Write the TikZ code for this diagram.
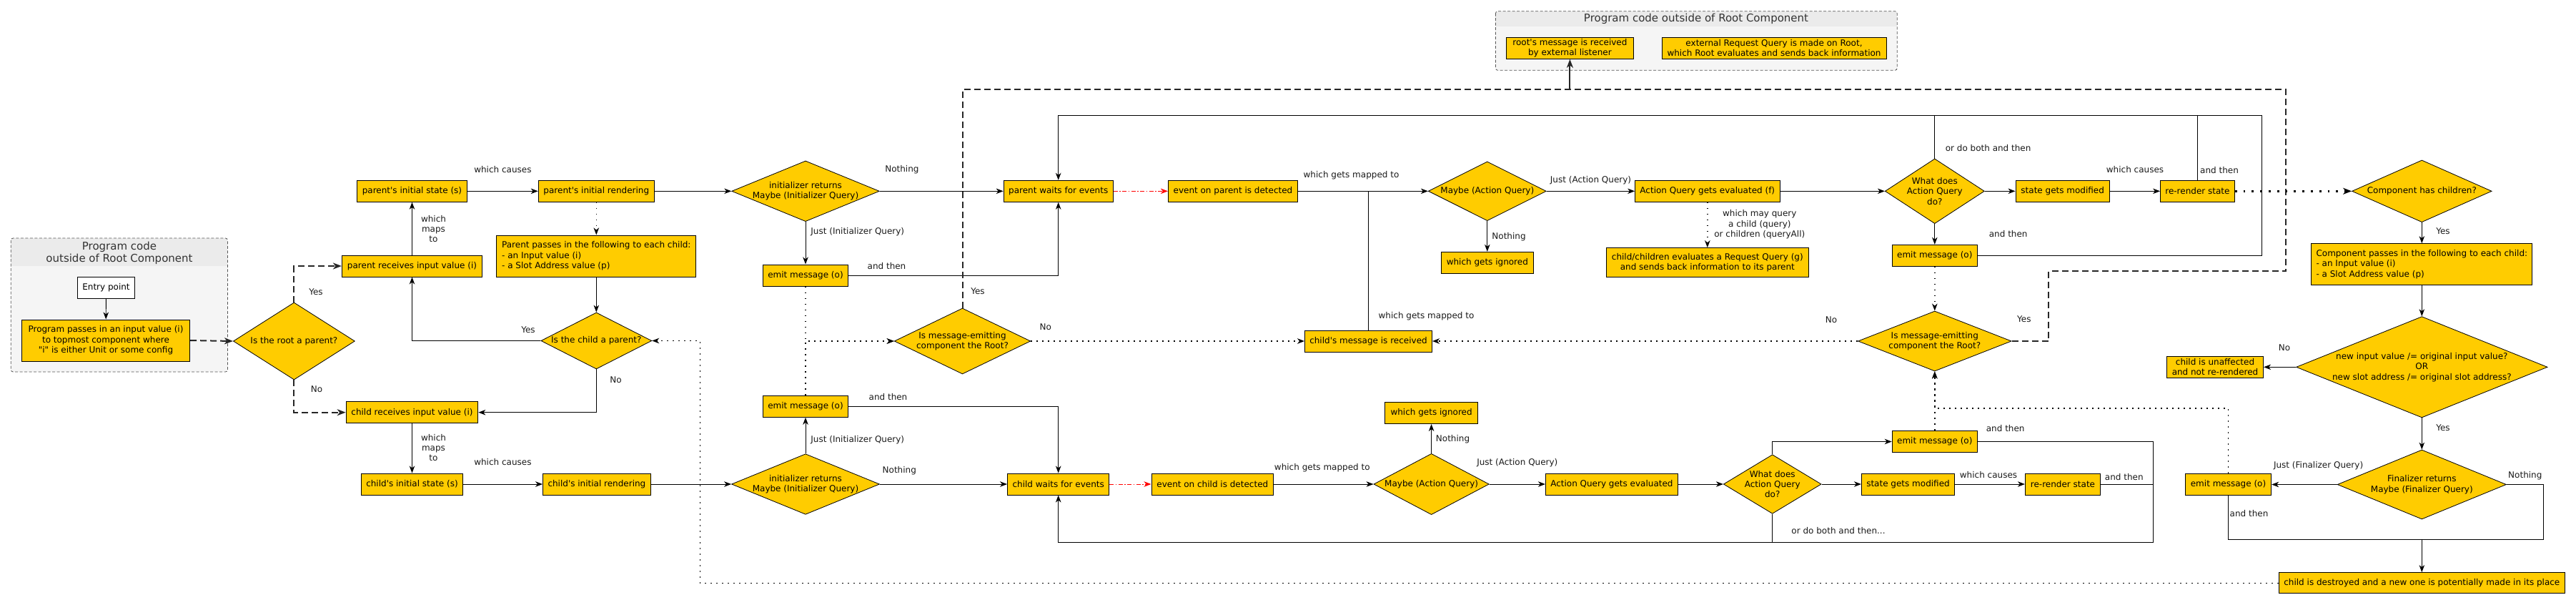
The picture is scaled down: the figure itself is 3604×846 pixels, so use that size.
\documentclass[tikz,border=0pt]{standalone}
\usepackage{fontspec}
\setmainfont{DejaVu Sans}[Ligatures=TeXOff]
\usetikzlibrary{arrows.meta,shapes.geometric}
\definecolor{ylw}{HTML}{FFCC00}
\definecolor{cbody}{HTML}{F5F5F5}
\definecolor{chead}{HTML}{EBEBEB}
\definecolor{cbord}{HTML}{555555}
\definecolor{ttl}{HTML}{333333}
\begin{document}
\begin{tikzpicture}[x=1pt,y=-1pt,
  every node/.style={font=\fontsize{12}{14.4}\selectfont, inner sep=0pt},
  box/.style={draw=black, fill=ylw, line width=1pt, align=center, minimum height=30},
  dia/.style={diamond, draw=black, fill=ylw, line width=0.8pt},
  dtxt/.style={align=center},
  lbl/.style={align=center, text=black!90},
  title/.style={align=center, text=ttl, font=\fontsize{15}{17}\selectfont},
  tip/.style={-{Stealth[length=10pt,width=7.5pt,inset=3pt]}},
  bigtip/.style={-{Stealth[length=12pt,width=9pt,inset=3.5pt]}},
  ln/.style={line width=0.9pt},
  arr/.style={ln, tip},
  dots/.style={line width=1.6pt, dash pattern=on 1.6pt off 6.4pt},
  bigdots/.style={line width=2.8pt, dash pattern=on 2.8pt off 9pt},
  heavy/.style={line width=2pt, dash pattern=on 9pt off 5pt, black!85},
  redarr/.style={red, line width=1pt, dash pattern=on 6pt off 2.5pt on 1.5pt off 2.5pt, tip},
  cont/.style={draw=cbord, line width=0.8pt, dash pattern=on 4pt off 2.5pt, rounded corners=3pt},
]
\useasboundingbox (0,0) rectangle (3604,846);

% ---------- containers ----------
\fill[cbody, rounded corners=3pt] (15.3,333) rectangle (318.4,520);
\begin{scope}
  \clip[rounded corners=3pt] (15.3,333) rectangle (318.4,520);
  \fill[chead] (15.3,333) rectangle (318.4,372);
\end{scope}
\draw[cont] (15.3,333) rectangle (318.4,520);
\node[title] (ttlL) at (167,353.5) {Program code\\outside of Root Component};

\fill[cbody, rounded corners=3pt] (2092.4,15.7) rectangle (2654.2,98.3);
\begin{scope}
  \clip[rounded corners=3pt] (2092.4,15.7) rectangle (2654.2,98.3);
  \fill[chead] (2092.4,15.7) rectangle (2654.2,36.7);
\end{scope}
\draw[cont] (2092.4,15.7) rectangle (2654.2,98.3);
\node[title] (ttlR) at (2373,26) {Program code outside of Root Component};

% ---------- nodes ----------
\node[box, fill=white, minimum width=80.4] (entry) at (148.5,402) {Entry point};
\node[box, minimum width=235.4, minimum height=58] (prog) at (148,476) {Program passes in an input value (i)\\to topmost component where\\"i" is either Unit or some config};
\node[dia, minimum width=170, minimum height=108, label={[dtxt]center:{Is the root a parent?}}] (rootQ) at (411.4,477) {};
\node[box, minimum width=196.1] (pRecv) at (576.5,372) {parent receives input value (i)};
\node[box, minimum width=153.4] (pInit) at (576.5,267.3) {parent's initial state (s)};
\node[box, minimum width=162.1] (pRend) at (834.3,267.3) {parent's initial rendering};
\node[box, minimum width=278.8, minimum height=58, align=left] (pPass) at (834.3,358) {Parent passes in the following to each child:\\- an Input value (i)\\- a Slot Address value (p)};
\node[dia, minimum width=155, minimum height=79, label={[dtxt]center:{Is the child a parent?}}] (childQ) at (834.3,476.5) {};
\node[box, minimum width=184.6] (cRecv) at (576.5,576.7) {child receives input value (i)};
\node[box, minimum width=142] (cInit) at (576.5,677) {child's initial state (s)};
\node[box, minimum width=150.7] (cRend) at (834.9,677) {child's initial rendering};

\node[dia, minimum width=206.6, minimum height=84.7, label={[dtxt]center:{initializer returns\\Maybe (Initializer Query)}}] (pIni) at (1127,267.3) {};
\node[box, minimum width=119.2] (pEmit) at (1127,385) {emit message (o)};
\node[box, minimum width=153] (pWait) at (1480.7,267.3) {parent waits for events};
\node[box, minimum width=181.2] (pEvent) at (1725,267.3) {event on parent is detected};
\node[dia, minimum width=190.6, minimum height=92, label={[dtxt]center:{Is message-emitting\\component the Root?}}] (rootL) at (1346.5,477) {};
\node[box, minimum width=119.2] (cEmit) at (1127,568.3) {emit message (o)};
\node[dia, minimum width=207, minimum height=84.6, label={[dtxt]center:{initializer returns\\Maybe (Initializer Query)}}] (cIni) at (1127,677) {};
\node[box, minimum width=142.3] (cWait) at (1480.7,677) {child waits for events};
\node[box, minimum width=170.6] (cEvent) at (1696.3,677) {event on child is detected};

\node[box, minimum width=178.8] (rootMsg) at (2196.4,67.3) {root's message is received\\by external listener};
\node[box, minimum width=314] (extReq) at (2482,67.3) {external Request Query is made on Root,\\which Root evaluates and sends back information};
\node[dia, minimum width=165, minimum height=82.7, label={[dtxt]center:{Maybe (Action Query)}}] (pMaybe) at (2080.8,267.3) {};
\node[box, minimum width=128.9] (pIgn) at (2080.8,367.3) {which gets ignored};
\node[box, minimum width=202.4] (pAQ) at (2388.8,267.3) {Action Query gets evaluated (f)};
\node[box, minimum width=283, minimum height=40.6] (pChild) at (2388.8,367) {child/children evaluates a Request Query (g)\\and sends back information to its parent};
\node[box, minimum width=177.9] (cMsg) at (1914.5,477) {child's message is received};
\node[box, minimum width=129.3] (cIgn) at (2002.6,577.5) {which gets ignored};
\node[dia, minimum width=161.3, minimum height=85.3, label={[dtxt]center:{Maybe (Action Query)}}] (cMaybe) at (2002.6,677) {};
\node[box, minimum width=184.9] (cAQ) at (2254.9,677) {Action Query gets evaluated};

\node[dia, minimum width=139, minimum height=90.7, label={[dtxt]center:{What does\\Action Query\\do?}}] (pWhat) at (2706.8,267.3) {};
\node[box, minimum width=131.4] (pState) at (2885.7,267.3) {state gets modified};
\node[box, minimum width=103.7] (pRer) at (3074.4,267.3) {re-render state};
\node[box, minimum width=119.2] (pEmit2) at (2706.8,357.3) {emit message (o)};
\node[dia, minimum width=214.7, minimum height=84, label={[dtxt]center:{Is message-emitting\\component the Root?}}] (rootR) at (2706.8,477) {};
\node[dia, minimum width=136.8, minimum height=82.6, label={[dtxt]center:{What does\\Action Query\\do?}}] (cWhat) at (2479.7,677) {};
\node[box, minimum width=119.2] (cEmit2) at (2706.8,617.5) {emit message (o)};
\node[box, minimum width=130.1] (cState) at (2669.5,677) {state gets modified};
\node[box, minimum width=105.2] (cRer) at (2886,677) {re-render state};

\node[dia, minimum width=195.6, minimum height=86.7, label={[dtxt]center:{Component has children?}}] (hasCh) at (3388.3,267.3) {};
\node[box, minimum width=308.7, minimum height=57.6, align=left] (compPass) at (3388.3,369.5) {Component passes in the following to each child:\\- an Input value (i)\\- a Slot Address value (p)};
\node[dia, minimum width=351.5, minimum height=141.3, label={[dtxt]center:{new input value /= original input value?\\OR\\new slot address /= original slot address?}}] (newIn) at (3388.3,513.3) {};
\node[box, minimum width=135.1] (unaff) at (3099,513.3) {child is unaffected\\and not re-rendered};
\node[dia, minimum width=236.3, minimum height=97, label={[dtxt]center:{Finalizer returns\\Maybe (Finalizer Query)}}] (fin) at (3388.3,677.5) {};
\node[box, minimum width=120.3] (fEmit) at (3117.5,677.5) {emit message (o)};
\node[box, minimum width=399.8, minimum height=29.3] (destroy) at (3388.3,815.3) {child is destroyed and a new one is potentially made in its place};

% ---------- helper coordinates ----------
\coordinate (loopT) at (3164.5,161.3);
\coordinate (loopB) at (3012.4,758.3);
\coordinate (h1) at (2866.3,379.3);
\coordinate (h2) at (3198.3,125.3);
\coordinate (dTop) at (2196.4,125.3);
\coordinate (jP) at (1914.5,267.3);
\coordinate (fj) at (2706.8,570.7);
\coordinate (fn) at (3558.3,754.3);
\coordinate (fm) at (3388.3,754.3);
\coordinate (dL) at (979.4,700);

% ---------- connectors: left part ----------
\draw[arr] (entry) -- (prog);
\draw[heavy, bigtip] (prog.east) -- (rootQ.west);
\draw[heavy, bigtip] (rootQ.north) |- (pRecv.west);
\draw[heavy, bigtip] (rootQ.south) |- (cRecv.west);
\draw[arr] (pRecv) -- (pInit);
\draw[arr] (pInit) -- (pRend);
\draw[dots, tip] (pRend) -- (pPass);
\draw[arr] (pRend.east) -- (pIni.west);
\draw[arr] (pPass) -- (childQ.north);
\draw[arr] (childQ.west) -| (pRecv.south);
\draw[arr] (childQ.south) |- (cRecv.east);
\draw[arr] (cRecv) -- (cInit);
\draw[arr] (cInit) -- (cRend);
\draw[arr] (cRend.east) -- (cIni.west);

% ---------- initializer / waits ----------
\draw[arr] (pIni.east) -- (pWait.west);
\draw[arr] (pIni.south) -- (pEmit.north);
\draw[arr] (pEmit.east) -| (pWait.south);
\draw[redarr] (pWait) -- (pEvent);
\draw[arr] (cIni.east) -- (cWait.west);
\draw[arr] (cIni.north) -- (cEmit.south);
\draw[arr] (cEmit.east) -| (cWait.north);
\draw[redarr] (cWait) -- (cEvent);
\draw[dots, tip] (pEmit.south) |- (rootL.west);
\draw[dots, tip] (cEmit.north) |- (rootL.west);
\draw[dots, tip] (rootL.east) -- (cMsg.west);

% ---------- action queries ----------
\draw[arr] (pEvent.east) -- (pMaybe.west);
\draw[ln] (cMsg.north) -- (jP);
\draw[arr] (pMaybe.south) -- (pIgn.north);
\draw[arr] (pMaybe.east) -- (pAQ.west);
\draw[dots, tip] (pAQ) -- (pChild);
\draw[arr] (pAQ.east) -- (pWhat.west);
\draw[arr] (pWhat.east) -- (pState.west);
\draw[arr] (pState) -- (pRer);
\draw[arr] (pWhat.south) -- (pEmit2.north);
\draw[arr] (pEmit2.east) -| (loopT) -| (pWait.north);
\draw[ln] (pWhat.north) -- (pWhat.north |- loopT);
\draw[ln] (pRer.north) -- (pRer.north |- loopT);
\draw[dots, tip] (pEmit2.south) -- (rootR.north);
\draw[dots, tip] (rootR.west) -- (cMsg.east);

\draw[arr] (cEvent.east) -- (cMaybe.west);
\draw[arr] (cMaybe.north) -- (cIgn.south);
\draw[arr] (cMaybe.east) -- (cAQ.west);
\draw[arr] (cAQ.east) -- (cWhat.west);
\draw[arr] (cWhat.north) |- (cEmit2.west);
\draw[arr] (cWhat.east) -- (cState.west);
\draw[arr] (cState) -- (cRer);
\draw[arr] (cEmit2.east) -| (loopB) -| (cWait.south);
\draw[ln] (cRer.east) -- (cRer.east -| loopB);
\draw[ln] (cWhat.south) -- (cWhat.south |- loopB);
\draw[dots, tip] (cEmit2.north) -- (rootR.south);
\draw[dots, tip] (fEmit.north) |- (fj) -- (rootR.south);

% ---------- root message paths ----------
\draw[heavy] (rootR.east) -| (h1) -| (h2) -| (rootL.north);
\draw[line width=2pt, black!85, bigtip] (dTop) -- (rootMsg.south);

% ---------- children update ----------
\draw[bigdots, bigtip] (pRer.east) -- (hasCh.west);
\draw[arr] (hasCh.south) -- (compPass.north);
\draw[arr] (compPass.south) -- (newIn.north);
\draw[arr] (newIn.west) -- (unaff.east);
\draw[arr] (newIn.south) -- (fin.north);
\draw[arr] (fin.west) -- (fEmit.east);
\draw[ln] (fin.east) -| (fn) -- (fm);
\draw[ln] (fEmit.south) |- (fm);
\draw[arr] (fm) -- (destroy.north);
\draw[dots, tip] (destroy.west) -| (dL) |- (childQ.east);

% ---------- labels ----------
\node[lbl] (lYes1) at (442,408) {Yes};
\node[lbl] (lNo1) at (443,544) {No};
\node[lbl] (lMaps1) at (606.5,320) {which\\maps\\to};
\node[lbl] (lCaus1) at (703.4,237) {which causes};
\node[lbl] (lYes2) at (739,461.7) {Yes};
\node[lbl] (lNo2) at (861.6,531) {No};
\node[lbl] (lMaps2) at (606.5,626) {which\\maps\\to};
\node[lbl] (lCaus2) at (703.4,645.7) {which causes};
\node[lbl] (lNoth1) at (1261.9,236.7) {Nothing};
\node[lbl] (lJust1) at (1199.8,323.7) {Just (Initializer Query)};
\node[lbl] (lThen1) at (1240.5,371.7) {and then};
\node[lbl] (lYes3) at (1368,407.7) {Yes};
\node[lbl] (lNo3) at (1462.7,457.7) {No};
\node[lbl] (lThen2) at (1242.5,555) {and then};
\node[lbl] (lJust2) at (1199.8,615) {Just (Initializer Query)};
\node[lbl] (lNoth2) at (1258.3,657.7) {Nothing};
\node[lbl] (lMap3) at (1890.5,245) {which gets mapped to};
\node[lbl] (lNoth3) at (2111,331) {Nothing};
\node[lbl] (lJust3) at (2225.5,251.7) {Just (Action Query)};
\node[lbl] (lMap4) at (1995.5,441.7) {which gets mapped to};
\node[lbl] (lNoth4) at (2032.5,614) {Nothing};
\node[lbl] (lMap5) at (1849.8,654) {which gets mapped to};
\node[lbl] (lJust4) at (2122.8,646.7) {Just (Action Query)};
\node[lbl] (lMay) at (2461.8,314) {which may query\\a child (query)\\or children (queryAll)};
\node[lbl] (lBoth1) at (2781.6,206.7) {or do both and then};
\node[lbl] (lThen3) at (2809.7,326.7) {and then};
\node[lbl] (lNo4) at (2562,447.7) {No};
\node[lbl] (lYes4) at (2831.8,446.7) {Yes};
\node[lbl] (lThen4) at (2805.7,599) {and then};
\node[lbl] (lCaus3) at (2782,663.7) {which causes};
\node[lbl] (lBoth2) at (2572,741.7) {or do both and then...};
\node[lbl] (lCaus4) at (2987,236.7) {which causes};
\node[lbl] (lThen5) at (3105,237.7) {and then};
\node[lbl] (lYes5) at (3418,323.7) {Yes};
\node[lbl] (lNo5) at (3196,486.7) {No};
\node[lbl] (lYes6) at (3418,598.7) {Yes};
\node[lbl] (lJust5) at (3243.6,650.7) {Just (Finalizer Query)};
\node[lbl] (lNoth5) at (3532.8,665) {Nothing};
\node[lbl] (lThen6) at (3146.5,717.7) {and then};
\node[lbl] (lThen7) at (2971.8,666.7) {and then};
\end{tikzpicture}
\end{document}
